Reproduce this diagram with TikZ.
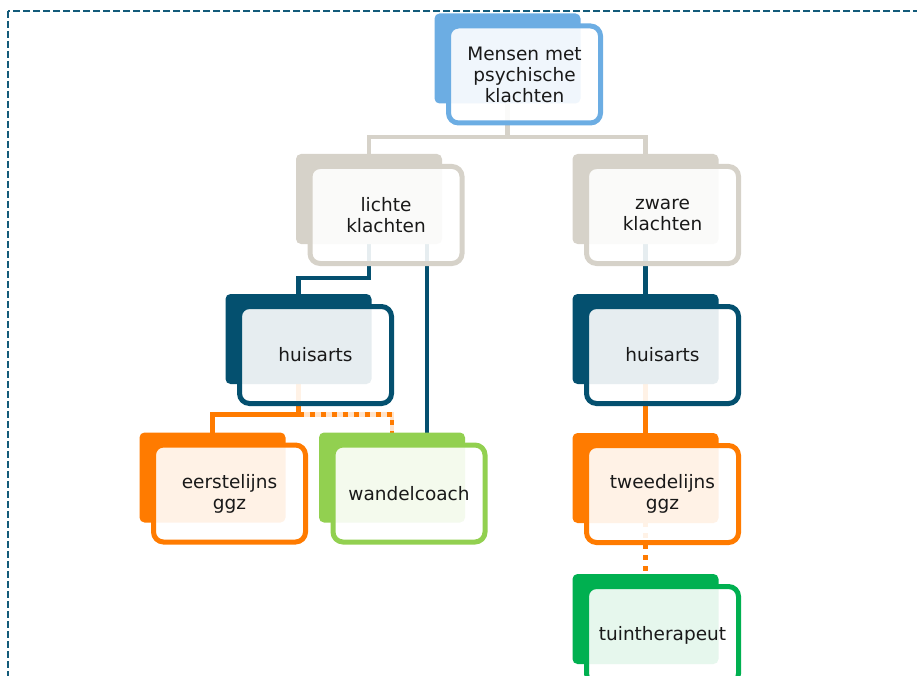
\documentclass[tikz,border=0pt]{standalone}
\usepackage{fontspec}
\setmainfont{DejaVu Sans}
\usepackage{tikz}
\pgfdeclarelayer{background}
\pgfsetlayers{background,main}
\definecolor{topblue}{HTML}{6CADE3}
\definecolor{lightgrey}{HTML}{D6D2C9}
\definecolor{darkblue}{HTML}{04506F}
\definecolor{orangec}{HTML}{FF7B00}
\definecolor{lightgreen}{HTML}{92D050}
\definecolor{greenc}{HTML}{00B050}
\definecolor{framec}{HTML}{135B7A}
\tikzset{
  back/.style={minimum width=146pt, minimum height=90pt, inner sep=0pt, rounded corners=5pt},
  front/.style={minimum width=152pt, minimum height=97pt, inner sep=0pt, rounded corners=10pt,
    line width=5pt, fill=white, fill opacity=0.9, text opacity=1, align=center,
    font=\fontsize{18.5}{21}\selectfont, text=black!90},
  link/.style={line width=4.5pt},
  dotlink/.style={line width=4.5pt, dash pattern=on 5pt off 6pt}
}

\begin{document}
\begin{tikzpicture}[x=1pt,y=-1pt]
\useasboundingbox (0,0) rectangle (917,676);
\clip (0,0) rectangle (917,676);
\draw[framec, line width=2pt, dash pattern=on 7pt off 3pt] (8,11) rectangle (940,700);
\foreach \n/\x/\y/\col/\txt in {
  top/524.5/74.5/topblue/{Mensen met\\psychische\\klachten},
  lichte/386/215/lightgrey/{lichte\\klachten},
  zware/662.5/215/lightgrey/{zware\\klachten},
  hl/315.5/355/darkblue/{huisarts},
  hr/662.5/355/darkblue/{huisarts},
  eerst/229.5/493.5/orangec/{eerstelijns\\ggz},
  wandel/409/493.5/lightgreen/{wandelcoach},
  twee/662.5/494/orangec/{tweedelijns\\ggz},
  tuin/662.5/635/greenc/{tuintherapeut}}
{
  \node[back, fill=\col] (\n b) at (\x-17,\y-16) {};
  \node[front, draw=\col] (\n) at (\x,\y) {\txt};
}
\begin{pgfonlayer}{background}
\draw[link, lightgrey] (topb.center) |- ([yshift=17pt]lichteb.north) -- (lichteb.center);
\draw[link, lightgrey] (topb.center) |- ([yshift=17pt]zwareb.north) -- (zwareb.center);
\draw[link, darkblue] (lichteb.center) |- ([yshift=16pt]hlb.north) -- (hlb.center);
\draw[link, darkblue] ([xshift=58pt]lichteb.center) -- ([xshift=58pt]lichteb.center |- wandelb.center);
\draw[link, darkblue] (zwareb.center) -- (hrb.center);
\draw[link, orangec] (hlb.center) |- ([yshift=18pt]eerstb.north) -- (eerstb.center);
\draw[link, orangec!20] ([yshift=18pt]eerstb.north -| hlb.center) -| (wandelb.center);
\draw[dotlink, orangec] ([yshift=18pt]eerstb.north -| hlb.center) -| (wandelb.center);
\draw[link, orangec] (hrb.center) -- (tweeb.center);
\draw[dotlink, orangec] (tweeb.center) -- (tuinb.center);
\end{pgfonlayer}
\end{tikzpicture}
\end{document}
